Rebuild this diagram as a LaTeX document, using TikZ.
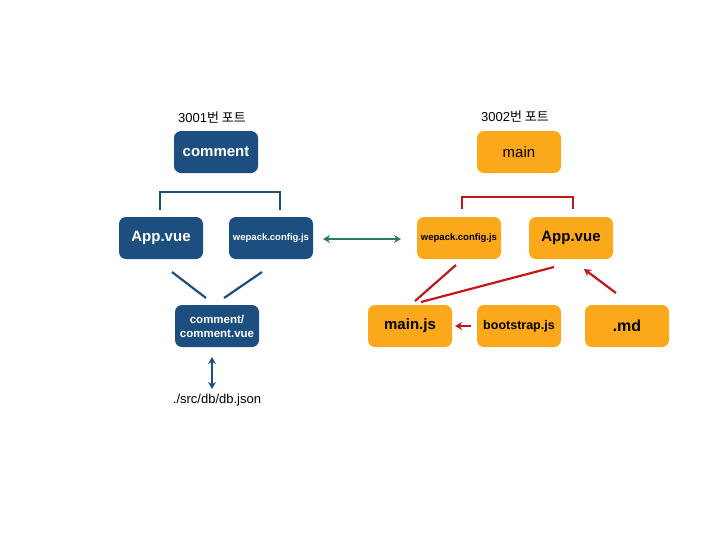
\documentclass[tikz,border=0pt]{standalone}
\usepackage{fontspec}
\setmainfont{Liberation Sans}
\newfontfamily\cjk{Noto Sans CJK KR}
\usetikzlibrary{arrows.meta}
\definecolor{bblue}{HTML}{1D4E80}
\definecolor{oorange}{HTML}{FBA81A}
\definecolor{rred}{HTML}{C4161C}
\definecolor{ggreen}{HTML}{2A7A5C}
\tikzset{
  bbox/.style={fill=bblue, rounded corners=7pt, minimum width=84pt, minimum height=42pt, text=white, font=\bfseries, inner sep=0pt, align=center},
  obox/.style={fill=oorange, rounded corners=7pt, minimum width=84pt, minimum height=42pt, text=black, font=\bfseries, inner sep=0pt, align=center},
  bline/.style={draw=bblue, line width=2.2pt},
  rline/.style={draw=rred, line width=2.2pt},
  lbl/.style={font=\fontsize{13}{15}\selectfont, text=black},
  mytip/.tip={Stealth[length=7pt,width=8pt]},
}
\begin{document}
\begin{tikzpicture}[x=1pt,y=-1pt]
\useasboundingbox (0,0) rectangle (723,542);
% Left side
\node[lbl] (p1) at (212,118) {3001{\cjk 번 포트}};
\node[bbox, font=\bfseries\fontsize{15}{17}\selectfont] (comment) at (216,152) {comment};
\node[bbox, font=\bfseries\fontsize{15}{17}\selectfont] (lapp) at (161,238) {App.vue};
\node[bbox, font=\bfseries\fontsize{9.5}{11}\selectfont] (lweb) at (271,238) {wepack.config.js};
\node[bbox, font=\bfseries\fontsize{11.5}{14}\selectfont] (cvue) at (217,326) {comment/\\comment.vue};
\node[font=\fontsize{13}{15}\selectfont] (db) at (217,400) {./src/db/db.json};
\coordinate (lb1) at (160,210);
\coordinate (lb2) at (160,192);
\coordinate (lb3) at (280,192);
\coordinate (lb4) at (280,210);
\draw[bline] (lb1) -- (lb2) -- (lb3) -- (lb4);
\coordinate (la1) at (172,272);
\coordinate (la2) at (206,298);
\coordinate (la3) at (262,272);
\coordinate (la4) at (224,298);
\draw[bline] (la1) -- (la2);
\draw[bline] (la3) -- (la4);
\coordinate (dv1) at (212,357);
\coordinate (dv2) at (212,389);
\draw[draw=bblue, line width=2.2pt, mytip-mytip] (dv1) -- (dv2);
% green
\coordinate (g1) at (323,239);
\coordinate (g2) at (401,239);
\draw[draw=ggreen, line width=2.2pt, mytip-mytip] (g1) -- (g2);
% Right side
\node[lbl] (p2) at (515,117) {3002{\cjk 번 포트}};
\node[obox, font=\fontsize{15}{17}\selectfont] (main) at (519,152) {main};
\node[obox, font=\bfseries\fontsize{9.5}{11}\selectfont] (rweb) at (459,238) {wepack.config.js};
\node[obox, font=\bfseries\fontsize{15}{17}\selectfont] (rapp) at (571,238) {App.vue};
\node[obox, font=\bfseries\fontsize{15}{17}\selectfont] (mainjs) at (410,326) {main.js};
\node[obox, font=\bfseries\fontsize{12.5}{14}\selectfont] (boot) at (519,326) {bootstrap.js};
\node[obox, font=\bfseries\fontsize{16}{18}\selectfont] (md) at (627,326) {.md};
\coordinate (rb1) at (462,209);
\coordinate (rb2) at (462,197);
\coordinate (rb3) at (573,197);
\coordinate (rb4) at (573,209);
\draw[rline] (rb1) -- (rb2) -- (rb3) -- (rb4);
\coordinate (ra1) at (415,301);
\coordinate (ra2) at (456,265);
\coordinate (ra3) at (421,302);
\coordinate (ra4) at (554,267);
\draw[rline] (ra1) -- (ra2);
\draw[rline] (ra3) -- (ra4);
\coordinate (bt1) at (471,326);
\coordinate (bt2) at (455,326);
\draw[draw=rred, line width=2.2pt, -mytip] (bt1) -- (bt2);
\coordinate (md1) at (616,293);
\coordinate (md2) at (584,269);
\draw[draw=rred, line width=2.2pt, -mytip] (md1) -- (md2);
\end{tikzpicture}
\end{document}
